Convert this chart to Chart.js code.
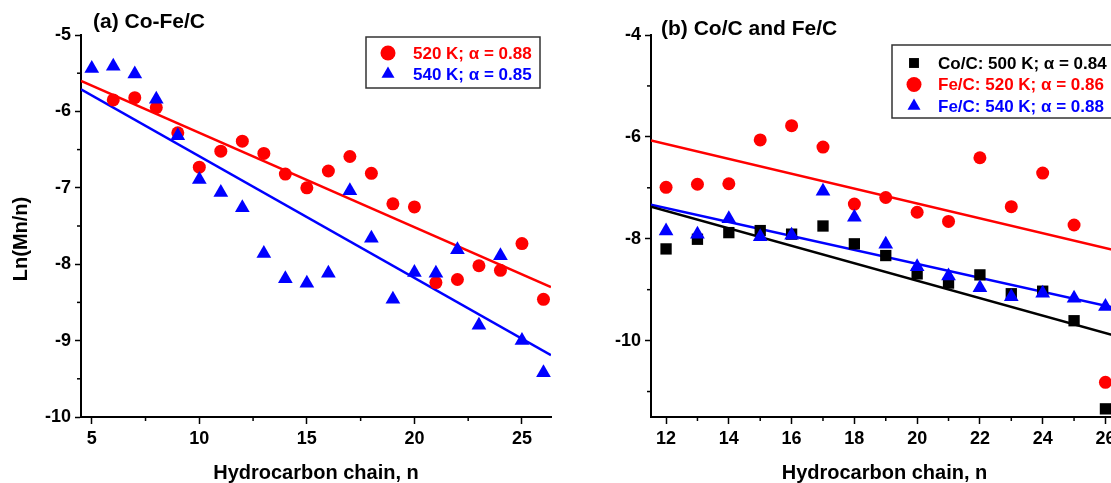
<!DOCTYPE html>
<html>
<head>
<meta charset="utf-8">
<script src="https://cdn.jsdelivr.net/npm/chart.js@4.4.1/dist/chart.umd.min.js"></script>
<style>
  html, body { margin: 0; padding: 0; background: #fff; overflow: hidden; width: 1111px; height: 483px; }
  .panel { position: absolute; top: 0; width: 575px; height: 483px; }
  #wrapA { left: 0; }
  #wrapB { left: 575px; }
</style>
</head>
<body>
<div class="panel" id="wrapA"><canvas id="chartA" width="575" height="483"></canvas></div>
<div class="panel" id="wrapB"><canvas id="chartB" width="575" height="483"></canvas></div>
<script>
// ---- panel (a): Co-Fe/C ----
const nA520 = [6, 7, 8, 9, 10, 11, 12, 13, 14, 15, 16, 17, 18, 19, 20, 21, 22, 23, 24, 25, 26];
const lnA520 = [-5.85, -5.82, -5.95, -6.28, -6.73, -6.52, -6.39, -6.55, -6.82, -7.00, -6.78,
                -6.59, -6.81, -7.21, -7.25, -8.24, -8.20, -8.02, -8.08, -7.73, -8.46];
const nA540 = [5, 6, 7, 8, 9, 10, 11, 12, 13, 14, 15, 16, 17, 18, 19, 20, 21, 22, 23, 24, 25, 26];
const lnA540 = [-5.44, -5.41, -5.51, -5.84, -6.32, -6.89, -7.06, -7.26, -7.86, -8.19, -8.25,
                -8.12, -7.04, -7.66, -8.46, -8.11, -8.12, -7.81, -8.80, -7.89, -9.00, -9.42];
// fitted lines (end points)
const fitA520 = [[4.5, -5.60], [26.35, -8.30]];
const fitA540 = [[4.5, -5.71], [26.35, -9.19]];

// ---- panel (b): Co/C and Fe/C ----
const nB = [12, 13, 14, 15, 16, 17, 18, 19, 20, 21, 22, 23, 24, 25, 26];
const lnCo500 = [-8.20, -8.01, -7.88, -7.84, -7.91, -7.75, -8.10, -8.33, -8.69, -8.87, -8.71, -9.08, -9.03, -9.61, -11.34];
const lnFe520 = [-6.99, -6.93, -6.92, -6.06, -5.78, -6.20, -7.32, -7.19, -7.48, -7.66, -6.41, -7.37, -6.71, -7.73, -10.82];
const lnFe540 = [-7.85, -7.91, -7.61, -7.96, -7.93, -7.07, -7.58, -8.11, -8.55, -8.73, -8.96, -9.14, -9.07, -9.17, -9.33];
const fitCo500 = [[11.52, -7.37], [26.4, -9.92]];
const fitFe520 = [[11.52, -6.07], [26.4, -8.24]];
const fitFe540 = [[11.52, -7.33], [26.4, -9.37]];

const labelsA = ['520 K; α = 0.88', '540 K; α = 0.85'];
const labelsB = ['Co/C: 500 K; α = 0.84', 'Fe/C: 520 K; α = 0.86', 'Fe/C: 540 K; α = 0.88'];
const xTitle = 'Hydrocarbon chain, n';
const yTitle = 'Ln(Mn/n)';

const FONT = '"Liberation Sans", Arial, Helvetica, sans-serif';
const RED = '#ff0000', BLUE = '#0000ff', BLACK = '#000000';

const toXY = (xs, ys) => xs.map((x, i) => ({ x: x, y: ys[i] }));
const toLine = (pts) => pts.map(p => ({ x: p[0], y: p[1] }));

function pointSet(label, xs, ys, color, style, radius, order) {
  return {
    type: 'scatter', label: label, data: toXY(xs, ys),
    pointStyle: style, pointRadius: radius, pointHoverRadius: radius,
    backgroundColor: color, borderColor: color, borderWidth: 0, order: order
  };
}
function fitSet(pts, color) {
  return {
    type: 'line', data: toLine(pts), borderColor: color, borderWidth: 2.5,
    pointRadius: 0, fill: false, order: 10
  };
}

function drawMarker(ctx, style, x, y, r) {
  ctx.beginPath();
  if (style === 'circle') {
    ctx.arc(x, y, r, 0, Math.PI * 2);
  } else if (style === 'triangle') {
    ctx.moveTo(x, y - r);
    ctx.lineTo(x + r * 0.866, y + r / 2);
    ctx.lineTo(x - r * 0.866, y + r / 2);
    ctx.closePath();
  } else {
    const s = r * Math.SQRT1_2;
    ctx.rect(x - s, y - s, 2 * s, 2 * s);
  }
  ctx.fill();
}

// minor ticks, panel title, y title and the boxed legend
const decor = {
  id: 'decor',
  afterDraw(chart, args, opts) {
    const ctx = chart.ctx;
    ctx.save();
    ctx.strokeStyle = '#000';
    ctx.lineWidth = 1.5;
    ['x', 'y'].forEach(id => {
      const s = chart.scales[id];
      const step = s.options.ticks.stepSize / 2;
      for (let k = Math.ceil(s.min / step - 1e-9); k <= Math.floor(s.max / step + 1e-9); k++) {
        if (Math.abs(k % 2) !== 1) continue;
        const p = s.getPixelForValue(k * step);
        ctx.beginPath();
        if (id === 'x') { ctx.moveTo(p, s.top); ctx.lineTo(p, s.top + 4); }
        else { ctx.moveTo(s.right - 4, p); ctx.lineTo(s.right, p); }
        ctx.stroke();
      }
    });

    ctx.fillStyle = '#000';
    ctx.textBaseline = 'alphabetic';
    ctx.textAlign = 'left';
    ctx.font = 'bold 21px ' + FONT;
    ctx.fillText(opts.title.text, opts.title.x, opts.title.y);

    if (opts.yTitle) {
      ctx.save();
      ctx.translate(opts.yTitle.x, opts.yTitle.y);
      ctx.rotate(-Math.PI / 2);
      ctx.textAlign = 'center';
      ctx.textBaseline = 'middle';
      ctx.font = 'bold 20px ' + FONT;
      ctx.fillText(opts.yTitle.text, 0, 0);
      ctx.restore();
    }

    const L = opts.legend;
    ctx.fillStyle = '#fff';
    ctx.fillRect(L.x, L.y, L.w, L.h);
    ctx.strokeStyle = '#333';
    ctx.lineWidth = 1.5;
    ctx.strokeRect(L.x, L.y, L.w, L.h);
    ctx.font = 'bold 17px ' + FONT;
    ctx.textBaseline = 'middle';
    const items = chart.data.datasets.filter(d => d.label);
    items.forEach((d, i) => {
      const y = L.y + L.first + i * L.gap;
      ctx.fillStyle = d.backgroundColor;
      drawMarker(ctx, d.pointStyle, L.x + L.mx, y, d.pointStyle === 'rect' ? 7 : 7.5);
      ctx.fillText(d.label, L.x + L.tx, y + 1);
    });
    ctx.restore();
  }
};

function axes(cfg) {
  const tickFont = { family: FONT, size: 18, weight: 'bold' };
  return {
    x: {
      type: 'linear', min: cfg.xmin, max: cfg.xmax,
      border: { display: true, color: '#000', width: 2 },
      grid: { display: true, drawOnChartArea: false, drawTicks: true, tickLength: 7, tickWidth: 1.5, tickColor: '#000' },
      ticks: { stepSize: cfg.xstep, includeBounds: false, color: '#000', font: tickFont, padding: 4, maxRotation: 0, autoSkip: false },
      title: { display: true, text: xTitle, color: '#000', font: { family: FONT, size: 20, weight: 'bold', lineHeight: 1 }, padding: { top: 0, bottom: 0 } },
      afterFit: s => { s.height = 66; }
    },
    y: {
      type: 'linear', min: cfg.ymin, max: cfg.ymax,
      border: { display: true, color: '#000', width: 2 },
      grid: { display: true, drawOnChartArea: false, drawTicks: true, tickLength: 6, tickWidth: 1.5, tickColor: '#000' },
      ticks: { stepSize: cfg.ystep, includeBounds: false, color: '#000', font: tickFont, padding: 4, autoSkip: false },
      afterFit: s => { s.width = cfg.yw; }
    }
  };
}

const common = {
  responsive: false,
  animation: false,
  events: [],
  plugins: { legend: { display: false }, tooltip: { enabled: false } }
};

new Chart(document.getElementById('chartA'), {
  data: {
    datasets: [
      pointSet(labelsA[0], nA520, lnA520, RED, 'circle', 6.5, 2),
      pointSet(labelsA[1], nA540, lnA540, BLUE, 'triangle', 8.5, 1),
      fitSet(fitA520, RED),
      fitSet(fitA540, BLUE)
    ]
  },
  options: Object.assign({}, common, {
    layout: { padding: { left: 0, top: 35, right: 24, bottom: 0 } },
    scales: axes({ xmin: 4.5, xmax: 26.35, xstep: 5, ymin: -10, ymax: -5, ystep: 1, yw: 81 }),
    plugins: Object.assign({}, common.plugins, {
      decor: {
        title: { text: '(a) Co-Fe/C', x: 93, y: 28 },
        yTitle: { text: yTitle, x: 21, y: 239 },
        legend: { x: 366, y: 37, w: 174, h: 51, first: 16, gap: 21, mx: 22, tx: 47 }
      }
    })
  }),
  plugins: [decor]
});

new Chart(document.getElementById('chartB'), {
  data: {
    datasets: [
      pointSet(labelsB[0], nB, lnCo500, BLACK, 'rect', 8, 3),
      pointSet(labelsB[1], nB, lnFe520, RED, 'circle', 6.5, 2),
      pointSet(labelsB[2], nB, lnFe540, BLUE, 'triangle', 8.5, 1),
      fitSet(fitCo500, BLACK),
      fitSet(fitFe520, RED),
      fitSet(fitFe540, BLUE)
    ]
  },
  options: Object.assign({}, common, {
    layout: { padding: { left: 0, top: 35, right: 32, bottom: 0 } },
    scales: axes({ xmin: 11.52, xmax: 26.4, xstep: 2, ymin: -11.5, ymax: -4, ystep: 2, yw: 76 }),
    plugins: Object.assign({}, common.plugins, {
      decor: {
        title: { text: '(b) Co/C and Fe/C', x: 86, y: 35 },
        legend: { x: 317, y: 45, w: 260, h: 73, first: 18, gap: 21.5, mx: 22, tx: 46 }
      }
    })
  }),
  plugins: [decor]
});
</script>
</body>
</html>
